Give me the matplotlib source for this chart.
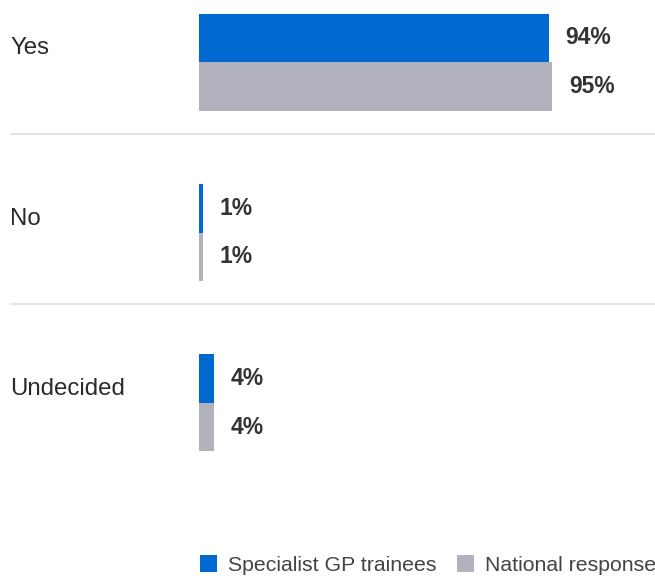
import matplotlib
matplotlib.use("Agg")
import matplotlib.pyplot as plt
import matplotlib.transforms as mtransforms
import numpy as np

plt.rcParams['font.family'] = ['Liberation Sans', 'DejaVu Sans']

categories = ["Yes", "No", "Undecided"]
series_names = ["Specialist GP trainees", "National response"]
trainees = [94, 1, 4]
national = [95, 1, 4]
colors = ["#0069D1", "#B2B2BE"]

W, H = 655, 576
fig = plt.figure(figsize=(W / 100, H / 100), dpi=100)
# bar area: 0..100% spans pixels 199..571
ax = fig.add_axes([199 / W, 0, 372 / W, 1])
ax.set_xlim(0, 100)
pitch = 170.5
ax.set_ylim((H - 62) / pitch, -62 / pitch)
ax.axis("off")

y = np.arange(len(categories))
h = 48.5 / pitch
b1 = ax.barh(y - h / 2, trainees, height=h, color=colors[0], label=series_names[0])
b2 = ax.barh(y + h / 2, national, height=h, color=colors[1], label=series_names[1])

for bars, vals in ((b1, trainees), (b2, national)):
    for rect, v in zip(bars, vals):
        ax.annotate(f"{v}%", (v, rect.get_y() + rect.get_height() / 2),
                    xytext=(12, 0), textcoords="offset points",
                    ha="left", va="center", fontsize=16.5, fontweight="bold",
                    color="#333333")

trans = mtransforms.blended_transform_factory(fig.transFigure, ax.transData)
for i, cat in enumerate(categories):
    ax.text(10 / W, i - 0.08, cat, transform=trans, ha="left", va="center",
            fontsize=17.3, color="#2a2a2a")

for i in range(len(categories) - 1):
    ax.plot([11 / W, 1], [i + 0.42, i + 0.42], transform=trans,
            color="#E2E2E2", linewidth=1.3, clip_on=False)

ax.legend(handles=[b1, b2], loc="center left", bbox_to_anchor=(200 / W, 1 - 565 / H),
          bbox_transform=fig.transFigure, ncol=2, frameon=False, fontsize=15.3,
          handlelength=0.8, handleheight=0.8, handletextpad=0.5,
          columnspacing=1.0, borderpad=0, borderaxespad=0, labelcolor="#444444")

fig.savefig("out.png", dpi=100)
